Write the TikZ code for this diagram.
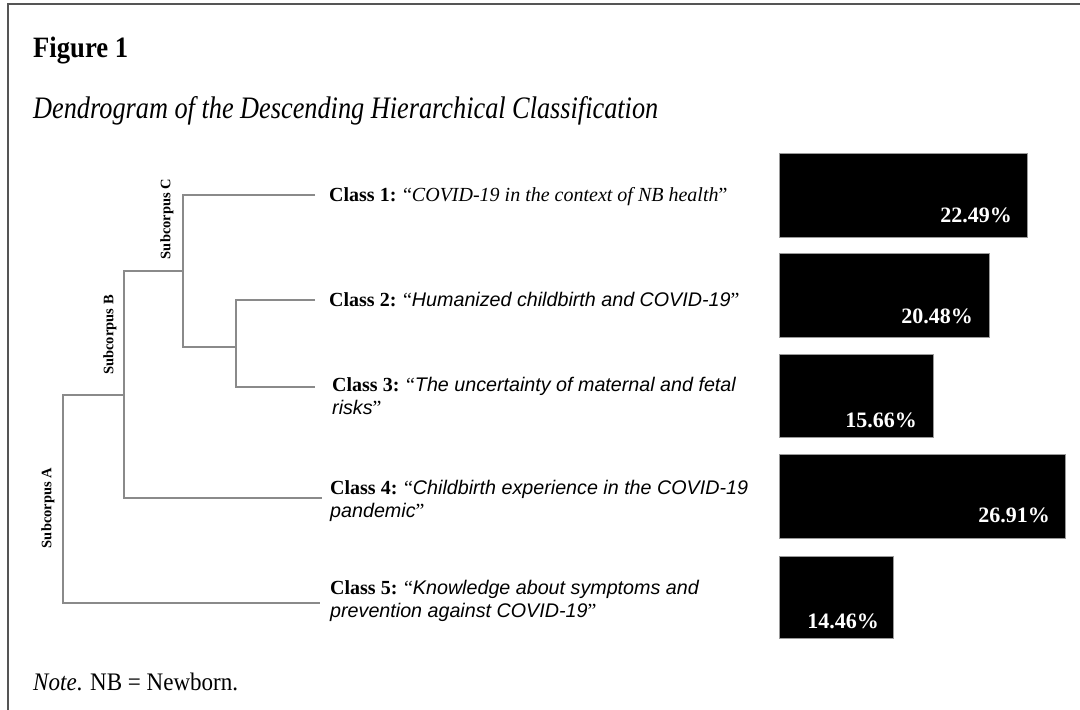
\documentclass[tikz,border=0pt]{standalone}
\usepackage{fontspec}
\usepackage{graphicx}
\newfontfamily\tnr{Liberation Serif}
\newfontfamily\arl{Liberation Sans}
\definecolor{framecol}{HTML}{555555}
\definecolor{dlinecol}{HTML}{8A8A8A}
\definecolor{bedge}{HTML}{9A9A9A}
\newcommand\arlit[1]{{\arl\itshape\fontsize{19.7}{23.5}\selectfont #1}}
\begin{document}
\begin{tikzpicture}[x=1pt,y=-1pt,
  dl/.style={draw=dlinecol,line width=1.1pt},
  cls/.style={anchor=base west,inner sep=0pt,font=\tnr\fontsize{20}{23.5}\selectfont},
  sub/.style={rotate=90,inner sep=0pt,font=\tnr\bfseries\fontsize{14.5}{16}\selectfont},
  bar/.style={fill=black,draw=bedge,line width=0.8pt,inner sep=0pt,anchor=north west},
  pct/.style={anchor=base east,inner sep=0pt,text=white,font=\tnr\bfseries\fontsize{22}{24}\selectfont},
  txt/.style={anchor=base west,inner sep=0pt}]
\useasboundingbox (0,0) rectangle (1080,710);
\fill[white] (0,0) rectangle (1080,710);
\draw[draw=framecol,line width=2pt] (8,711) -- (8,4) -- (1081,4);

% titles
\node[txt] (fig) at (33,57) {\resizebox{95pt}{20.5pt}{\tnr\bfseries Figure 1}};
\node[txt] (cap) at (33,118) {\resizebox{625pt}{22pt}{\tnr\itshape Dendrogram of the Descending Hierarchical Classification}};
\node[txt] (note) at (33,690) {\resizebox{205pt}{17.5pt}{\tnr\textit{Note}. NB = Newborn.}};

% class labels
\node[cls] (c1) at (329,201) {\textbf{Class 1:} “\textit{COVID-19 in the context of NB health}”};
\node[cls] (c2) at (329,306) {\textbf{Class 2:} “\arlit{Humanized childbirth and COVID-19}”};
\node[cls] (c3) at (332,391) {\begin{tabular}[t]{@{}l@{}}\textbf{Class 3:} “\arlit{The uncertainty of maternal and fetal}\\\arlit{risks}”\end{tabular}};
\node[cls] (c4) at (330,494) {\begin{tabular}[t]{@{}l@{}}\textbf{Class 4:} “\arlit{Childbirth experience in the COVID-19}\\\arlit{pandemic}”\end{tabular}};
\node[cls] (c5) at (330,594) {\begin{tabular}[t]{@{}l@{}}\textbf{Class 5:} “\arlit{Knowledge about symptoms and}\\\arlit{prevention against COVID-19}”\end{tabular}};

% connector ends
\coordinate (e1) at (315,195);
\coordinate (e2) at (315,300);
\coordinate (e3) at (315,387);
\coordinate (e4) at (322,498);
\coordinate (e5) at (320,603);
% junctions
\coordinate (k23) at (236,347);
\coordinate (kC) at (183,271);
\coordinate (kB) at (124,395);
\coordinate (kA) at (63,500);

\draw[dl] (e2) -| (k23) |- (e3);
\draw[dl] (e1) -| (kC) |- (k23);
\draw[dl] (kC) -| (kB) |- (e4);
\draw[dl] (kB) -| (kA) |- (e5);

% subcorpus labels
\node[sub] (sC) at (167,219) {Subcorpus C};
\node[sub] (sB) at (110,335) {Subcorpus B};
\node[sub] (sA) at (48,508) {Subcorpus A};

% bars
\node[bar,minimum width=248pt,minimum height=84pt] (b1) at (779,153) {};
\node[bar,minimum width=210pt,minimum height=84pt] (b2) at (779,253) {};
\node[bar,minimum width=154pt,minimum height=83pt] (b3) at (779,354) {};
\node[bar,minimum width=286pt,minimum height=84pt] (b4) at (779,454) {};
\node[bar,minimum width=114pt,minimum height=82pt] (b5) at (779,556) {};

\node[pct] (p1) at (1012,222) {22.49\%};
\node[pct] (p2) at (973,323) {20.48\%};
\node[pct] (p3) at (917,427) {15.66\%};
\node[pct] (p4) at (1050,522) {26.91\%};
\node[pct] (p5) at (879,628) {14.46\%};
\end{tikzpicture}
\end{document}
